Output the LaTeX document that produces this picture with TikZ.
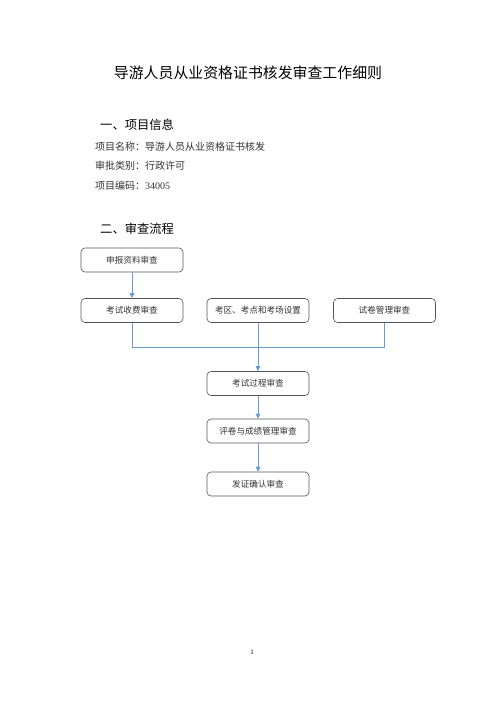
\documentclass[tikz,border=0pt]{standalone}
\usepackage{fontspec}
\setmainfont{Liberation Serif}
\newfontfamily\cjk{Noto Sans CJK SC}
\usetikzlibrary{arrows.meta}
\definecolor{flow}{HTML}{6A9AD0}
\definecolor{boxline}{HTML}{555555}
\tikzset{
  procbox/.style={draw=boxline, line width=0.6pt, rounded corners=4pt, minimum width=102pt, minimum height=24pt, inner sep=0pt, font=\cjk\fontsize{8.6}{10}\selectfont, text=black!80},
  flowline/.style={draw=flow, line width=1pt},
  flowarrow/.style={flowline, -{Triangle[length=5pt,width=4.5pt]}},
  bodytext/.style={anchor=west, inner sep=0pt, font=\cjk\fontsize{10}{11}\selectfont, text=black!80},
  headtext/.style={anchor=west, inner sep=0pt, font=\cjk\fontsize{12.3}{14}\selectfont}
}
\begin{document}
\begin{tikzpicture}[x=1pt,y=-1pt]
\useasboundingbox[fill=white] (0,0) rectangle (496,702);
\node[inner sep=0pt, font=\cjk\fontsize{14.9}{16}\selectfont] (title) at (248,73) {导游人员从业资格证书核发审查工作细则};
\node[headtext] (h1) at (100,125) {一、项目信息};
\node[bodytext] (l1) at (95,147) {项目名称：导游人员从业资格证书核发};
\node[bodytext] (l2) at (95,166) {审批类别：行政许可};
\node[bodytext] (l3) at (95,186) {项目编码：\fontspec{Liberation Serif}34005};
\node[headtext] (h2) at (100,229) {二、审查流程};

\node[procbox] (a) at (132,260) {申报资料审查};
\node[procbox] (b) at (132,310.5) {考试收费审查};
\node[procbox] (c) at (258,310.5) {考区、考点和考场设置};
\node[procbox] (d) at (384.5,310.5) {试卷管理审查};
\node[procbox] (e) at (258,383.5) {考试过程审查};
\node[procbox] (f) at (258,431) {评卷与成绩管理审查};
\node[procbox] (g) at (258,484) {发证确认审查};

\coordinate (jb) at (132,347);
\coordinate (jd) at (384.5,347);
\coordinate (jc) at (258,347);

\draw[flowarrow] (a) -- (b);
\draw[flowline] (b.south) -- (jb) -- (jd) -- (d.south);
\draw[flowarrow] (c.south) -- (e.north);
\draw[flowarrow] (e) -- (f);
\draw[flowarrow] (f) -- (g);

\node[inner sep=0pt, font=\fontsize{7}{8}\selectfont] (pg) at (252,652) {1};
\end{tikzpicture}
\end{document}
